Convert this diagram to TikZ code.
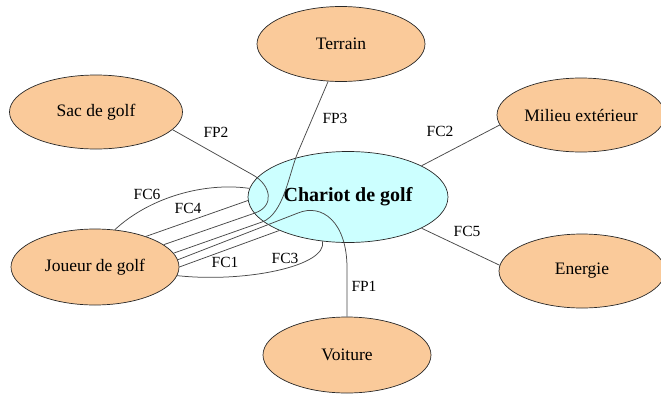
\documentclass[tikz,border=0pt]{standalone}
\usepackage{fontspec}
\setmainfont{Liberation Serif}
\usetikzlibrary{shapes.geometric}
\definecolor{orangefill}{RGB}{250,202,154}
\definecolor{cyanfill}{RGB}{204,255,255}
\definecolor{linegray}{RGB}{72,72,72}
\definecolor{bordergray}{RGB}{40,40,40}
\begin{document}
\begin{tikzpicture}[x=1pt,y=-1pt,
  ext/.style={ellipse, draw=bordergray, line width=0.7pt, fill=orangefill, inner sep=0pt,
    minimum width=168pt, minimum height=75pt, font=\fontsize{17.5}{20}\selectfont},
  sys/.style={ellipse, draw=bordergray, line width=0.7pt, fill=cyanfill, inner sep=0pt,
    minimum width=200pt, minimum height=91pt, font=\fontsize{20}{24}\selectfont\bfseries},
  conn/.style={draw=linegray, line width=0.75pt},
  lbl/.style={font=\fontsize{15.5}{18}\selectfont, inner sep=0pt}]
\useasboundingbox (0,0) rectangle (661,394);

% nodes
\node[ext, minimum width=173pt, minimum height=74pt] (sac) at (96,112) {Sac de golf};
\node[ext] (terrain) at (341,44) {Terrain};
\node[ext, minimum height=74pt] (milieu) at (581,115) {Milieu extérieur};
\node[sys] (chariot) at (348,197) {Chariot de golf};
\node[ext, minimum height=76pt] (joueur) at (95,267) {Joueur de golf};
\node[ext, minimum width=166pt, minimum height=74pt] (energie) at (582,271) {Energie};
\node[ext, minimum height=76pt] (voiture) at (347,355) {Voiture};

% bend points
\coordinate (fp2a) at (253,175);
\coordinate (fp2b) at (255,213);
\coordinate (fp3a) at (298,152);
\coordinate (fp3b) at (262,222);
\coordinate (fp1a) at (347,268);
\coordinate (fp1b) at (298,213);

% connectors
\draw[conn] (sac.-13) -- (fp2a) .. controls (271,185) and (275,206) .. (fp2b) -- (joueur.18);
\draw[conn] (terrain.-109) -- (fp3a) .. controls (289,173) and (284,214) .. (fp3b) -- (joueur.10);
\draw[conn] (voiture.90) -- (fp1a) .. controls (347,222) and (322,203) .. (fp1b) -- (joueur.5);
\draw[conn] (joueur.62) .. controls (150,197) and (205,182) .. (chariot.175);
\draw[conn] (joueur.-6) .. controls (245,283) and (328,266) .. (chariot.-120);
\draw[conn] (joueur.31) -- (chariot.182);
\draw[conn] (joueur.0) -- (chariot.206);
\draw[conn] (chariot.23) -- (milieu.-173);
\draw[conn] (chariot.-23) -- (energie.176);

% labels
\node[lbl] (lfp2) at (216,132) {FP2};
\node[lbl] (lfp3) at (335,118) {FP3};
\node[lbl] (lfc2) at (440,131) {FC2};
\node[lbl] (lfc6) at (147,194) {FC6};
\node[lbl] (lfc4) at (188,208) {FC4};
\node[lbl] (lfc1) at (225,262) {FC1};
\node[lbl] (lfc3) at (285,258) {FC3};
\node[lbl] (lfc5) at (467,231) {FC5};
\node[lbl] (lfp1) at (364,286) {FP1};
\end{tikzpicture}
\end{document}
